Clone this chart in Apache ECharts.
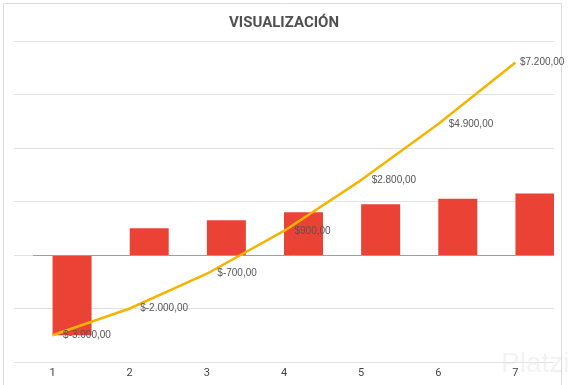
<!DOCTYPE html>
<html>
<head>
<meta charset="utf-8">
<script src="https://cdn.jsdelivr.net/npm/echarts@6/dist/echarts.min.js"></script>
<style>html,body{margin:0;padding:0;background:#fff}#c{width:568px;height:385px}</style>
</head>
<body>
<div id="c"></div>
<script>
var categories = ['1','2','3','4','5','6','7'];
var flows = [-3000, 1000, 1300, 1600, 1900, 2100, 2300];
var cumulative = [-3000, -2000, -700, 900, 2800, 4900, 7200];
var spacer = [null, null, null, null, null, null, null];
var yMin = -4000, yMax = 8000, yStep = 2000;

function fmt(v) {
  var neg = v < 0; var a = Math.abs(v);
  var s = String(a).replace(/\B(?=(\d{3})+(?!\d))/g, '.');
  return '$' + (neg ? '-' : '') + s + ',00';
}

var lineData = cumulative.map(function (v, i) {
  return i === cumulative.length - 1 ? {value: v, label: {distance: 4}} : v;
});

var chart = echarts.init(document.getElementById('c'), null, {renderer: 'canvas'});
chart.setOption({
  animation: false,
  backgroundColor: '#fff',
  title: {
    text: 'VISUALIZACIÓN', left: 'center', top: 11,
    textStyle: {fontFamily: 'Roboto', fontSize: 15, fontWeight: 'bold', color: '#505050'}
  },
  grid: {left: 14, right: 14, top: 41, bottom: 23},
  xAxis: {
    type: 'category', data: categories, boundaryGap: true,
    axisTick: {show: false},
    axisLine: {show: false},
    axisLabel: {color: '#444', fontSize: 11, fontFamily: 'Roboto', margin: 6}
  },
  yAxis: {
    type: 'value', min: yMin, max: yMax, interval: yStep,
    axisLabel: {show: false}, axisLine: {show: false}, axisTick: {show: false},
    splitLine: {lineStyle: {color: '#e2e2e2', width: 1}}
  },
  series: [
    {type: 'bar', data: spacer, barWidth: 39, barGap: '0%', silent: true,
      markLine: {silent: true, symbol: 'none', label: {show: false},
        lineStyle: {color: '#7aa3e5', width: 1, type: 'solid'},
        data: [[{xAxis: 0, yAxis: 0}, {x: 554, yAxis: 0}]]}},
    {type: 'bar', data: flows, barWidth: 39, barGap: '0%',
      itemStyle: {color: '#ea4335'}},
    {type: 'line', data: lineData, z: 5, symbol: 'circle', symbolSize: 1, showSymbol: true,
      itemStyle: {color: '#f4b400', opacity: 0},
      lineStyle: {color: '#f4b400', width: 2.5, opacity: 1},
      label: {show: true, position: 'right', distance: 10, opacity: 1,
        color: '#555', fontSize: 10, fontFamily: 'Liberation Sans',
        formatter: function (p) { return fmt(p.value); }}
    }
  ],
  graphic: [
    {type: 'rect', shape: {x: 3.5, y: 3.5, width: 558, height: 390}, style: {fill: 'none', stroke: '#dcdcdc', lineWidth: 1}, silent: true, z: -1},
    {type: 'text', left: 501, top: 350, style: {text: 'Platzi', fontSize: 28, fontFamily: 'Liberation Sans', fill: 'rgba(0,0,0,0.05)'}, silent: true}
  ]
});
</script>
</body>
</html>
